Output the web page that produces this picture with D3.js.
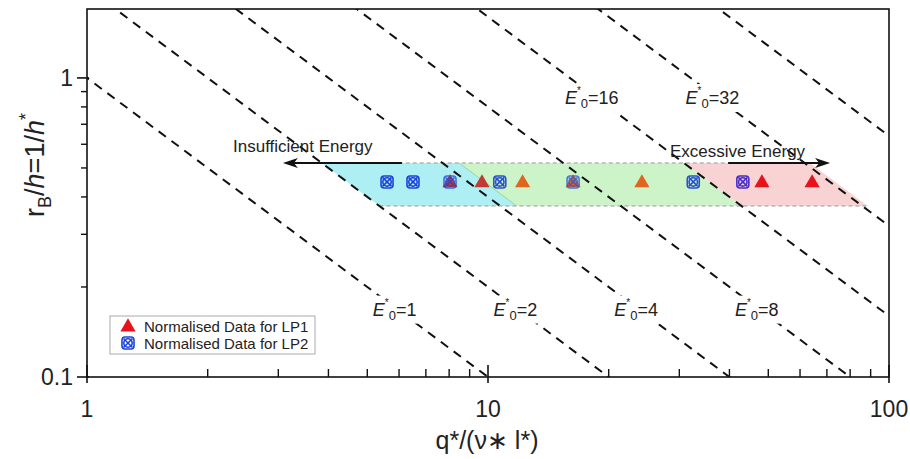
<!DOCTYPE html>
<html><head><meta charset="utf-8">
<script src="https://cdn.jsdelivr.net/npm/d3@7"></script>
<style>
body{margin:0;background:#fff;}
svg{font-family:"Liberation Sans",Arial,sans-serif;}
</style></head>
<body><svg id="c" width="910" height="459"></svg>
<script>
// ---- data ----
const energyLevels = [1, 2, 4, 8, 16, 32, 64];
const energyLabelsLow = [1, 2, 4, 8];      // labelled near the bottom
const energyLabelsHigh = [16, 32];         // labelled near the top
const lp1X = [8.04, 9.66, 12.2, 16.3, 24.2, 48.2, 64.3];
const lp1Y = [0.449, 0.449, 0.449, 0.449, 0.449, 0.449, 0.449];
const lp2X = [5.6, 6.5, 8.04, 10.7, 16.3, 32.5, 43.2];
const lp2Y = [0.449, 0.449, 0.449, 0.449, 0.449, 0.449, 0.449];
const bandY = [0.373, 0.5195];             // bottom, top of shaded band
const zoneE = [2, 4.4, 16, 33];            // region boundaries along E lines
const zoneNames = ["insufficient", "optimal", "excessive"];
const arrowLeftX = [6.1, 3.08];
const arrowRightX = [39.7, 71.3];
const xTicks = [1, 10, 100];
const yTicks = [0.1, 1];
const xDomain = [1, 100];
const yDomain = [0.1, 1.7];

// ---- layout ----
const L = 87, R = 889, T = 9, B = 377;
const svg = d3.select("#c");
const x = d3.scaleLog().domain(xDomain).range([L, R]);
const y = d3.scaleLog().domain(yDomain).range([B, T]);

svg.append("defs").append("clipPath").attr("id", "clip")
  .append("rect").attr("x", L).attr("y", T).attr("width", R - L).attr("height", B - T);
const plot = svg.append("g").attr("clip-path", "url(#clip)");

// shaded zones (parallelograms bounded by constant-E lines)
const zoneFill = {insufficient: "#aeeff3", optimal: "#cdf3c8", excessive: "#f9d3d3"};
zoneNames.forEach((z, i) => {
  const e1 = zoneE[i], e2 = zoneE[i + 1];
  const pts = [[e1 / bandY[1], bandY[1]], [e2 / bandY[1], bandY[1]], [e2 / bandY[0], bandY[0]], [e1 / bandY[0], bandY[0]]];
  plot.append("path")
    .attr("d", d3.line().x(d => x(d[0])).y(d => y(d[1]))(pts) + "Z")
    .attr("fill", zoneFill[z]);
});
// dashed grey outline on band top/bottom
[[zoneE[0] / bandY[1], zoneE[3] / bandY[1], bandY[1]], [zoneE[0] / bandY[0], zoneE[3] / bandY[0], bandY[0]]].forEach(s => {
  plot.append("line").attr("x1", x(s[0])).attr("x2", x(s[1])).attr("y1", y(s[2])).attr("y2", y(s[2]))
    .attr("stroke", "#9a9a9a").attr("stroke-width", 1).attr("stroke-dasharray", "4,3");
});
// boundary between insufficient and optimal
plot.append("line").attr("x1", x(zoneE[1] / bandY[1])).attr("y1", y(bandY[1]))
  .attr("x2", x(zoneE[1] / bandY[0])).attr("y2", y(bandY[0]))
  .attr("stroke", "#8fd8a0").attr("stroke-width", 1);

// constant energy dashed lines y = E/x
energyLevels.forEach(E => {
  plot.append("line")
    .attr("x1", x(0.5)).attr("y1", y(E / 0.5))
    .attr("x2", x(400)).attr("y2", y(E / 400))
    .attr("stroke", "#111").attr("stroke-width", 2).attr("stroke-dasharray", "9,7");
});

// zone for a data point
function zoneOf(xv, yv) {
  const E = xv * yv;
  if (E < zoneE[1]) return "insufficient";
  if (E < zoneE[2]) return "optimal";
  return "excessive";
}
const triColor = {insufficient: "#c23a34", optimal: "#e0661f", excessive: "#e8121c"};
const circColor = {insufficient: "#1d44d6", optimal: "#2a52d0", excessive: "#4a2ec6"};

// LP1 triangles
const tri = d3.symbol().type(d3.symbolTriangle).size(100);
lp1X.forEach((xv, i) => {
  svg.append("path").attr("d", tri())
    .attr("transform", `translate(${x(xv)},${y(lp1Y[i]) + 1})`)
    .attr("fill", triColor[zoneOf(xv, lp1Y[i])]);
});
// LP2 circle-x markers
function circX(g, cx, cy, col, op) {
  const m = g.append("g").attr("transform", `translate(${cx},${cy})`).attr("opacity", op);
  m.append("rect").attr("x", -6).attr("y", -6).attr("width", 12).attr("height", 12).attr("rx", 3)
    .attr("fill", "none").attr("stroke", col).attr("stroke-width", 1.6);
  m.append("circle").attr("r", 4.2).attr("fill", "none").attr("stroke", col).attr("stroke-width", 1.6);
  m.append("path").attr("d", "M-4.5,-4.5L4.5,4.5M-4.5,4.5L4.5,-4.5").attr("stroke", col).attr("stroke-width", 1.6);
}
lp2X.forEach((xv, i) => {
  const overlap = lp1X.some(v => Math.abs(v - xv) < 0.05);
  circX(svg, x(xv), y(lp2Y[i]), circColor[zoneOf(xv, lp2Y[i])], overlap ? 0.75 : 1);
});

// arrows
function arrow(x1, x2, yy) {
  const px1 = x(x1), px2 = x(x2), py = y(yy);
  svg.append("line").attr("x1", px1).attr("x2", px2 - Math.sign(px2 - px1) * 8).attr("y1", py).attr("y2", py)
    .attr("stroke", "#111").attr("stroke-width", 2.2);
  const dir = Math.sign(px2 - px1);
  svg.append("path").attr("d", `M${px2},${py}L${px2 - dir * 15},${py - 5}L${px2 - dir * 11},${py}L${px2 - dir * 15},${py + 5}Z`)
    .attr("fill", "#111");
}
arrow(arrowLeftX[0], arrowLeftX[1], bandY[1]);
arrow(arrowRightX[0], arrowRightX[1], bandY[1]);
svg.append("text").attr("x", 233).attr("y", 152).attr("font-size", 17).attr("fill", "#222").text("Insufficient Energy");
svg.append("text").attr("x", 670).attr("y", 157).attr("font-size", 17).attr("fill", "#222").text("Excessive Energy");

// energy labels
function eLabel(E, yv, shift) {
  const g = svg.append("g");
  const t = g.append("text").attr("x", x(E / yv) + shift).attr("y", y(yv) + 6)
    .attr("text-anchor", "middle").attr("font-size", 18).attr("fill", "#222");
  t.append("tspan").attr("font-style", "italic").text("E");
  t.append("tspan").attr("font-size", 10).attr("dy", -10).text("*");
  t.append("tspan").attr("font-size", 13).attr("dy", 14).text("0");
  t.append("tspan").attr("dy", -4).text("=" + E);
  const bb = t.node().getBBox();
  g.insert("rect", "text").attr("x", bb.x - 2).attr("y", bb.y - 1).attr("width", bb.width + 4).attr("height", bb.height + 2).attr("fill", "#fff");
}
energyLabelsLow.forEach(E => eLabel(E, 0.168, -3));
energyLabelsHigh.forEach(E => eLabel(E, 0.857, -5));

// frame
svg.append("rect").attr("x", L).attr("y", T).attr("width", R - L).attr("height", B - T)
  .attr("fill", "none").attr("stroke", "#111").attr("stroke-width", 1.6);

// x axis ticks: major crossing, minor inward
const xMinor = x.ticks().filter(v => !xTicks.includes(v));
xMinor.forEach(v => svg.append("line").attr("x1", x(v)).attr("x2", x(v)).attr("y1", B).attr("y2", B - 8).attr("stroke", "#111").attr("stroke-width", 1.4));
xTicks.forEach(v => svg.append("line").attr("x1", x(v)).attr("x2", x(v)).attr("y1", B + 6).attr("y2", B - 12).attr("stroke", "#111").attr("stroke-width", 1.6));
xTicks.forEach(v => svg.append("text").attr("x", x(v)).attr("y", 417).attr("text-anchor", "middle").attr("font-size", 23).attr("fill", "#222").text(v));

// y axis ticks: outward
const yMinor = y.ticks().filter(v => !yTicks.includes(v) && v < 1);
yMinor.forEach(v => svg.append("line").attr("x1", L).attr("x2", L - 6).attr("y1", y(v)).attr("y2", y(v)).attr("stroke", "#111").attr("stroke-width", 1.4));
yTicks.forEach(v => svg.append("line").attr("x1", L + 2).attr("x2", L - 10).attr("y1", y(v)).attr("y2", y(v)).attr("stroke", "#111").attr("stroke-width", 1.6));
yTicks.forEach(v => svg.append("text").attr("x", 73).attr("y", y(v) + 8).attr("text-anchor", "end").attr("font-size", 23).attr("fill", "#222").text(v));

// axis titles
svg.append("text").attr("x", 487).attr("y", 449).attr("text-anchor", "middle").attr("font-size", 25).attr("fill", "#222").text("q*/(ν∗ l*)");
const yt = svg.append("text").attr("transform", "translate(44,165) rotate(-90)").attr("text-anchor", "middle").attr("font-size", 27).attr("fill", "#222");
yt.append("tspan").text("r");
yt.append("tspan").attr("font-size", 18).attr("dy", 7).text("B");
yt.append("tspan").attr("dy", -7).text("/");
yt.append("tspan").attr("font-style", "italic").text("h");
yt.append("tspan").text("=1/");
yt.append("tspan").attr("font-style", "italic").text("h");
yt.append("tspan").attr("font-size", 18).attr("dy", -12).text("*");

// legend
const lg = svg.append("g");
lg.append("rect").attr("x", 110).attr("y", 316).attr("width", 205).attr("height", 38).attr("fill", "#fff").attr("stroke", "#aaa").attr("stroke-width", 1);
lg.append("path").attr("d", tri()).attr("transform", "translate(128,327)").attr("fill", "#e8121c");
circX(lg, 128, 343, "#1d44d6", 1);
lg.append("text").attr("x", 144).attr("y", 332).attr("font-size", 15).attr("fill", "#222").text("Normalised Data for LP1");
lg.append("text").attr("x", 144).attr("y", 349).attr("font-size", 15).attr("fill", "#222").text("Normalised Data for LP2");
</script></body></html>
